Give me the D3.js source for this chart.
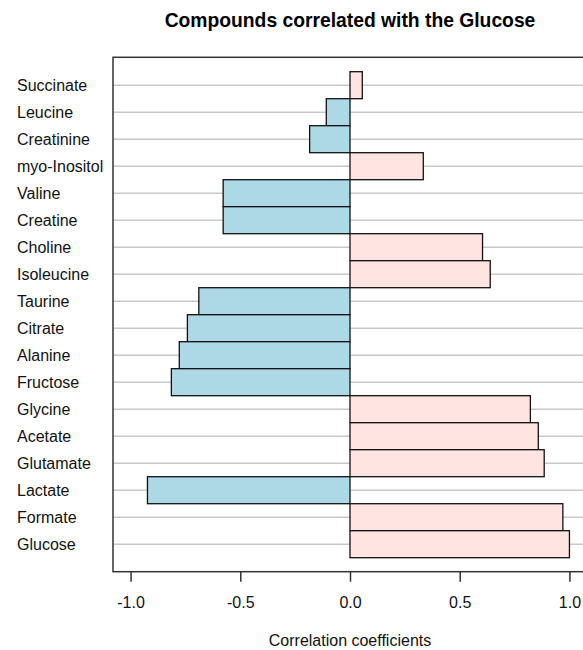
<!DOCTYPE html>
<html><head><meta charset="utf-8">
<script src="https://cdn.jsdelivr.net/npm/d3@7"></script>
<style>body{margin:0;background:#fff}svg{display:block;font-family:"Liberation Sans",Arial,sans-serif}</style>
</head><body>
<script>
const compounds = ["Succinate","Leucine","Creatinine","myo-Inositol","Valine","Creatine","Choline","Isoleucine","Taurine","Citrate","Alanine","Fructose","Glycine","Acetate","Glutamate","Lactate","Formate","Glucose"];
const correlations = [0.056,-0.108,-0.184,0.334,-0.578,-0.578,0.604,0.639,-0.689,-0.741,-0.778,-0.814,0.822,0.858,0.885,-0.923,0.970,1.0];
const xTicks = [-1.0,-0.5,0.0,0.5,1.0];
const title = "Compounds correlated with the Glucose";
const xLabel = "Correlation coefficients";

const W = 583, H = 650;
const box = {left:113, top:57.3, right:587, bottom:571.7};
const x = d3.scaleLinear().domain([-1.08,1.08]).range([box.left, box.right]);
const y = d3.scaleBand().domain(compounds).range([71.7, 557.7]).padding(0);

const svg = d3.select("body").append("svg").attr("width",W).attr("height",H);

svg.append("text").attr("x",(box.left+box.right)/2).attr("y",26.5)
  .attr("text-anchor","middle").attr("font-size",19.3).attr("font-weight","bold").text(title);

// gridlines at bar centres
svg.append("g").selectAll("line").data(compounds).join("line")
  .attr("x1",box.left).attr("x2",box.right)
  .attr("y1",d=>y(d)+y.bandwidth()/2).attr("y2",d=>y(d)+y.bandwidth()/2)
  .attr("stroke","#c8c8c8").attr("stroke-width",1.5);

// bars
svg.append("g").selectAll("rect").data(compounds).join("rect")
  .attr("x",(d,i)=>x(Math.min(0,correlations[i])))
  .attr("width",(d,i)=>Math.abs(x(correlations[i])-x(0)))
  .attr("y",d=>y(d)).attr("height",y.bandwidth())
  .attr("fill",(d,i)=>correlations[i]<0?"#ADD8E6":"#FFE4E1")
  .attr("stroke","#111").attr("stroke-width",1.3);

// box
svg.append("rect").attr("x",box.left).attr("y",box.top)
  .attr("width",box.right-box.left).attr("height",box.bottom-box.top)
  .attr("fill","none").attr("stroke","#333").attr("stroke-width",1.5);

// y labels
svg.append("g").selectAll("text").data(compounds).join("text")
  .attr("x",17).attr("y",d=>y(d)+y.bandwidth()/2).attr("dy","0.36em")
  .attr("font-size",16).attr("fill","#111").text(d=>d);

// x axis
const xAxis = d3.axisBottom(x).tickValues(xTicks).tickFormat(d3.format(".1f")).tickSize(10).tickPadding(15);
const gx = svg.append("g").attr("transform",`translate(0,${box.bottom})`).call(xAxis);
gx.select(".domain").remove();
gx.selectAll(".tick line").attr("stroke","#333").attr("stroke-width",1.5);
gx.selectAll(".tick text").attr("font-size",16).attr("fill","#111").attr("font-family","Liberation Sans, Arial, sans-serif").text(d=>d3.format(".1f")(d).replace("−","-"));

svg.append("text").attr("x",(box.left+box.right)/2).attr("y",646)
  .attr("text-anchor","middle").attr("font-size",16).attr("fill","#111").text(xLabel);
</script>
</body></html>
